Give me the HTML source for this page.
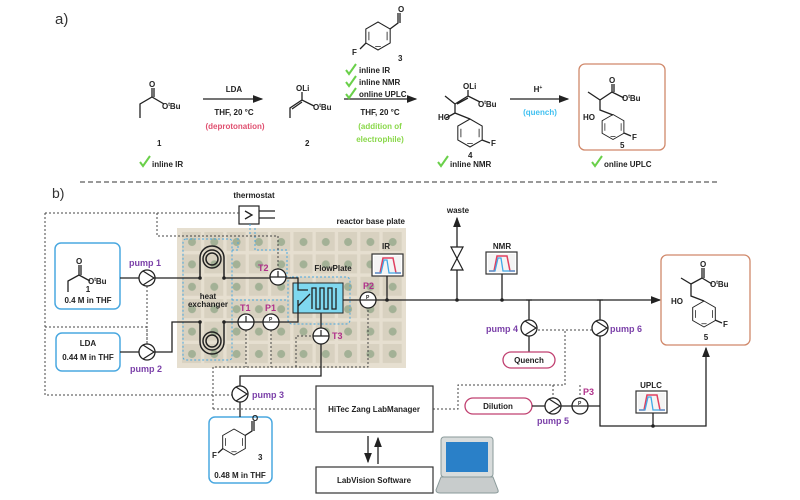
<!DOCTYPE html>
<html><head><meta charset="utf-8"><style>
html,body{margin:0;padding:0;background:#fff;}
svg{display:block;font-family:"Liberation Sans",sans-serif;}
.t{font-size:8px;font-weight:bold;fill:#222;}
.pl{font-size:9px;font-weight:bold;fill:#7a3fa8;}
.mg{font-size:9px;font-weight:bold;fill:#b0308a;}
.ln{stroke:#222;stroke-width:1.3;fill:none;}
.dt{stroke:#444;stroke-width:1;stroke-dasharray:2,2;fill:none;}
.bd{stroke:#4aa8e0;stroke-width:1;stroke-dasharray:2,2;fill:none;}
</style></head><body>
<svg width="800" height="500" viewBox="0 0 800 500">
<defs>
<marker id="ar" markerWidth="8" markerHeight="8" refX="7" refY="4" orient="auto"><path d="M0,1 L8,4 L0,7 z" fill="#222"/></marker>
<pattern id="grid" x="181" y="231" width="22.3" height="22.4" patternUnits="userSpaceOnUse">
<rect x="1" y="1" width="19" height="19" fill="#d8d1c0"/><circle cx="11" cy="11" r="4" fill="#a3b196"/>
</pattern>
<g id="pump"><circle r="8" fill="#fff" stroke="#222" stroke-width="1.3"/><path d="M-4,-7 L7,0 L-4,7" stroke="#222" stroke-width="1.2" fill="none"/></g>
<g id="tsen"><circle r="8" fill="#fff" stroke="#222" stroke-width="1.3"/><path d="M-8,0 H8 M0,0 V-6" stroke="#222" stroke-width="1.2"/></g>
<g id="psen"><circle r="8" fill="#fff" stroke="#222" stroke-width="1.3"/><path d="M-8,0 H8" stroke="#222" stroke-width="1.2"/><text x="-2" y="-1" font-size="5" font-weight="bold" fill="#222">P</text></g>
<g id="spec"><rect x="0" y="0" width="31" height="22" fill="#fff" stroke="#333" stroke-width="1.2"/><rect x="2" y="2" width="27" height="18" fill="#f4f4f4"/><path d="M3,19 L8,19 L11,4 L21,4 L24,19 L29,19" stroke="#e04060" stroke-width="1.5" fill="none"/><path d="M3,19 L9,19 L12,6 L15,6 L17,19 L29,19" stroke="#40a8e8" stroke-width="1.3" fill="none"/></g>
<g id="check"><path d="M0,4 L3,8 L10,-2" stroke="#6ad04a" stroke-width="2" fill="none"/></g>
<g id="hex"><polygon points="0,-10 8.7,-5 8.7,5 0,10 -8.7,5 -8.7,-5" fill="none" stroke="#222" stroke-width="0.75"/><path d="M-6.5,-3 V3 M6.5,-3 V3 M-2,7.5 L2,7.5" stroke="#222" stroke-width="0.6"/></g>
</defs>

<!-- PART A -->
<text x="55" y="24" font-size="15" fill="#333">a)</text>
<g class="ln" stroke-width="1">
<path d="M140,118 V104 L152,97 L164,104"/><path d="M152,97 V88 M154,97 V88"/>
</g>
<text x="149" y="87" class="t">O</text>
<text x="162" y="109" class="t">O<tspan font-size="5" dy="-3">t</tspan><tspan dy="3">Bu</tspan></text>
<text x="157" y="146" class="t">1</text>
<use href="#check" x="140" y="158"/><text x="152" y="167" class="t">inline IR</text>
<line x1="203" y1="99" x2="262" y2="99" class="ln" marker-end="url(#ar)"/>
<text x="234" y="92" class="t" text-anchor="middle">LDA</text>
<text x="234" y="115" class="t" text-anchor="middle">THF, 20 °C</text>
<text x="235" y="129" class="t" text-anchor="middle" style="fill:#e05070">(deprotonation)</text>
<g class="ln" stroke-width="1"><path d="M290,118 V108 L302,100 L314,106 M302,100 V92 M292,109 L302,102"/></g>
<text x="296" y="91" class="t">OLi</text>
<text x="313" y="110" class="t">O<tspan font-size="5" dy="-3">t</tspan><tspan dy="3">Bu</tspan></text>
<text x="305" y="146" class="t">2</text>
<line x1="344" y1="99" x2="416" y2="99" class="ln" marker-end="url(#ar)"/>
<use href="#hex" transform="translate(378,36) scale(1.4)"/>
<g class="ln" stroke-width="1"><path d="M390,29 L398,23 V13 M400,23 V13 M366,43 L360,49"/></g>
<text x="398" y="12" class="t">O</text><text x="352" y="55" class="t">F</text>
<text x="398" y="61" class="t">3</text>
<use href="#check" x="346" y="66"/><text x="359" y="73" class="t">inline IR</text>
<use href="#check" x="346" y="78"/><text x="359" y="85" class="t">inline NMR</text>
<use href="#check" x="346" y="90"/><text x="359" y="97" class="t">online UPLC</text>
<text x="380" y="115" class="t" text-anchor="middle">THF, 20 °C</text>
<text x="380" y="129" class="t" text-anchor="middle" style="fill:#8ad84a">(addition of</text>
<text x="380" y="142" class="t" text-anchor="middle" style="fill:#8ad84a">electrophile)</text>
<g class="ln" stroke-width="1"><path d="M445,96 L455,104 L468,96 L480,102 M468,96 V90 M457,104 L468,98 M455,104 V113 L470,119 M446,118 L455,113"/><path d="M482,140 L490,143"/></g>
<use href="#hex" transform="translate(470,133) scale(1.4)"/>
<text x="463" y="89" class="t">OLi</text>
<text x="478" y="107" class="t">O<tspan font-size="5" dy="-3">t</tspan><tspan dy="3">Bu</tspan></text>
<text x="438" y="120" class="t">HO</text><text x="491" y="146" class="t">F</text>
<text x="468" y="158" class="t">4</text>
<use href="#check" x="438" y="158"/><text x="450" y="167" class="t">inline NMR</text>
<line x1="510" y1="99" x2="568" y2="99" class="ln" marker-end="url(#ar)"/>
<text x="538" y="92" class="t" text-anchor="middle">H<tspan font-size="5" dy="-3">+</tspan></text>
<text x="540" y="115" class="t" text-anchor="middle" style="fill:#40c0f0">(quench)</text>
<rect x="579" y="64" width="86" height="86" rx="6" fill="#fff" stroke="#d0886a" stroke-width="1.3"/>
<g class="ln" stroke-width="1"><path d="M588,92 L600,100 L612,92 L624,98 M612,92 V84 M614,92 V84 M600,100 V110 L613,115 M624,133 L631,136"/></g>
<use href="#hex" transform="translate(613,127) scale(1.25)"/>
<text x="609" y="83" class="t">O</text>
<text x="622" y="101" class="t">O<tspan font-size="5" dy="-3">t</tspan><tspan dy="3">Bu</tspan></text>
<text x="583" y="120" class="t">HO</text><text x="632" y="140" class="t">F</text>
<text x="620" y="148" class="t">5</text>
<use href="#check" x="592" y="158"/><text x="604" y="167" class="t">online UPLC</text>

<line x1="80" y1="182" x2="720" y2="182" stroke="#333" stroke-width="1" stroke-dasharray="5,3"/>

<!-- PART B -->
<text x="52" y="198" font-size="14" fill="#333">b)</text>
<rect x="177" y="228" width="229" height="140" fill="#e6dfd0"/>
<rect x="181" y="231" width="223" height="134" fill="url(#grid)"/>
<text x="405" y="224" class="t" text-anchor="end">reactor base plate</text>
<text x="254" y="198" class="t" text-anchor="middle">thermostat</text>
<rect x="239" y="206" width="20" height="18" fill="#fff" stroke="#222" stroke-width="1.2"/>
<path d="M245,211 L252,215 L245,219 M259,211 H275 M259,218 H275" class="ln" stroke-width="1"/>
<rect x="183" y="239" width="49" height="121" class="bd" rx="3"/>
<path d="M232,300 H287 M232,250 H238 V238 M255,228 V250 H287 V277" class="bd"/>
<rect x="288" y="277" width="62" height="47" rx="4" class="bd"/>
<rect x="293" y="283" width="50" height="30" fill="#7fd8f0" stroke="#222" stroke-width="1"/>
<path d="M312,309 V288 h4 V309 h4 V288 h4 V309 h4 V288 h4 V309 h4 V288" class="ln" stroke-width="1.5"/>
<path d="M298,306 L310,294" class="ln" stroke-width="1"/>
<text x="333" y="271" class="t" text-anchor="middle">FlowPlate</text>
<rect x="55" y="243" width="65" height="66" rx="6" fill="#fff" stroke="#4aa8e0" stroke-width="1.5"/>
<g class="ln" stroke-width="1"><path d="M68,292 V281 L79,275 L90,281 M79,275 V265 M81,275 V265"/></g>
<text x="76" y="264" class="t">O</text>
<text x="88" y="284" class="t">O<tspan font-size="5" dy="-3">t</tspan><tspan dy="3">Bu</tspan></text>
<text x="88" y="292" class="t" text-anchor="middle">1</text>
<text x="88" y="303" class="t" text-anchor="middle">0.4 M in THF</text>
<rect x="56" y="333" width="64" height="38" rx="6" fill="#fff" stroke="#4aa8e0" stroke-width="1.5"/>
<text x="88" y="346" class="t" text-anchor="middle">LDA</text>
<text x="88" y="360" class="t" text-anchor="middle">0.44 M in THF</text>
<rect x="209" y="417" width="63" height="66" rx="6" fill="#fff" stroke="#4aa8e0" stroke-width="1.5"/>
<use href="#hex" transform="translate(234,442) scale(1.3)"/>
<g class="ln" stroke-width="1"><path d="M245,435.5 L252,431 V421 M254,431 V421 M223,448.5 L218,453"/></g>
<text x="252" y="421" class="t">O</text><text x="212" y="458" class="t">F</text><text x="258" y="460" class="t">3</text>
<text x="240" y="478" class="t" text-anchor="middle">0.48 M in THF</text>
<path d="M45,213 H239 M45,213 V395 H232 M45,327 H147 V344 M157,213 V236 H278 V269" class="dt"/>
<path d="M250,224 V236" class="bd"/>
<path d="M213,409 H316 M213,409 V367 H368 V308 M246,330 V367 M271,330 V367 M296,367 V336 H313" class="dt"/>
<path d="M433,409 H458 V385 H565 V330 M530,330 H592 M553,385 V398 M580,385 V398" class="dt"/>
<path d="M147,286 V344" class="dt"/>
<path d="M120,278 H200 M224,278 H298 V290 H308 M120,352 H172 V322 H200 M224,322 H298 V300" class="ln"/>
<path d="M343,300 H660" class="ln" marker-end="url(#ar)"/>
<path d="M321,313 V376 H240 V417" class="ln"/>
<g fill="none" stroke="#222" stroke-width="1.5">
<path d="M200,278 V258 A12,12 0 1 1 224,258 V278"/><ellipse cx="212" cy="259" rx="9" ry="9"/><ellipse cx="212" cy="259" rx="6" ry="6"/>
<path d="M200,322 V342 A12,12 0 1 0 224,342 V322"/><ellipse cx="212" cy="341" rx="9" ry="9"/><ellipse cx="212" cy="341" rx="6" ry="6"/>
</g>
<g fill="#222"><circle cx="200" cy="278" r="1.8"/><circle cx="224" cy="278" r="1.8"/><circle cx="200" cy="322" r="1.8"/><circle cx="224" cy="322" r="1.8"/><circle cx="387" cy="300" r="1.8"/><circle cx="457" cy="300" r="1.8"/><circle cx="502" cy="300" r="1.8"/><circle cx="653" cy="426" r="1.8"/></g>
<text x="208" y="299" class="t" text-anchor="middle">heat</text>
<text x="208" y="307" class="t" text-anchor="middle">exchanger</text>
<use href="#pump" x="147" y="278"/><text x="129" y="266" class="pl">pump 1</text>
<use href="#pump" x="147" y="352"/><text x="130" y="372" class="pl">pump 2</text>
<use href="#pump" x="240" y="394"/><text x="252" y="398" class="pl">pump 3</text>
<use href="#tsen" x="278" y="277"/><text x="258" y="271" class="mg">T2</text>
<use href="#tsen" x="246" y="322"/><text x="240" y="311" class="mg">T1</text>
<use href="#psen" x="271" y="322"/><text x="265" y="311" class="mg">P1</text>
<use href="#psen" x="368" y="300"/><text x="363" y="289" class="mg">P2</text>
<use href="#tsen" x="321" y="336"/><text x="332" y="339" class="mg">T3</text>
<text x="386" y="249" class="t" text-anchor="middle">IR</text>
<use href="#spec" x="372" y="254"/>
<path d="M387,276 V300" class="ln"/>
<text x="458" y="213" class="t" text-anchor="middle">waste</text>
<path d="M457,300 V218" class="ln" marker-end="url(#ar)"/>
<path d="M451,247 H463 L451,270 H463 Z" fill="#fff" stroke="#222" stroke-width="1.2"/>
<text x="502" y="249" class="t" text-anchor="middle">NMR</text>
<use href="#spec" x="486" y="252"/>
<path d="M502,274 V300" class="ln"/>
<path d="M526,300 H532 M529,300 V352" class="ln"/>
<use href="#pump" x="529" y="328"/>
<text x="486" y="332" class="pl">pump 4</text>
<rect x="503" y="352" width="52" height="16" rx="8" fill="#fff" stroke="#c04070" stroke-width="1.3"/>
<text x="529" y="363" class="t" text-anchor="middle">Quench</text>
<path d="M597,300 H603 M600,300 V426 H706 V348" class="ln" marker-end="url(#ar)"/>
<use href="#pump" x="600" y="328"/>
<text x="610" y="332" class="pl">pump 6</text>
<text x="651" y="388" class="t" text-anchor="middle">UPLC</text>
<use href="#spec" x="636" y="391"/>
<path d="M653,413 V426" class="ln"/>
<rect x="465" y="398" width="67" height="16" rx="8" fill="#fff" stroke="#c04070" stroke-width="1.3"/>
<text x="498" y="409" class="t" text-anchor="middle">Dilution</text>
<path d="M532,406 H600" class="ln"/>
<use href="#pump" x="553" y="406"/><text x="537" y="424" class="pl">pump 5</text>
<use href="#psen" x="580" y="406"/><text x="583" y="395" class="mg">P3</text>
<rect x="661" y="255" width="89" height="90" rx="6" fill="#fff" stroke="#d0886a" stroke-width="1.3"/>
<g class="ln" stroke-width="1"><path d="M681,278 L691,284 L702,278 L712,284 M702,278 V268 M704,278 V268 M691,284 V296 L704,301 M715,320 L722,323"/></g>
<use href="#hex" transform="translate(704,314) scale(1.3)"/>
<text x="700" y="267" class="t">O</text>
<text x="710" y="287" class="t">O<tspan font-size="5" dy="-3">t</tspan><tspan dy="3">Bu</tspan></text>
<text x="671" y="304" class="t">HO</text><text x="723" y="327" class="t">F</text>
<text x="706" y="340" class="t" text-anchor="middle">5</text>
<rect x="316" y="386" width="117" height="46" fill="#fff" stroke="#333" stroke-width="1.2"/>
<text x="374" y="412" class="t" text-anchor="middle">HiTec Zang LabManager</text>
<rect x="316" y="467" width="117" height="26" fill="#fff" stroke="#333" stroke-width="1.2"/>
<text x="374" y="483" class="t" text-anchor="middle">LabVision Software</text>
<path d="M368,436 V462" class="ln" stroke-width="1" marker-end="url(#ar)"/>
<path d="M378,464 V438" class="ln" stroke-width="1" marker-end="url(#ar)"/>
<rect x="441" y="437" width="52" height="40" rx="3" fill="#d8dcdc" stroke="#8a9a9a" stroke-width="1"/>
<rect x="446" y="442" width="42" height="30" fill="#2a80c8"/>
<path d="M441,477 L436,490 Q436,493 440,493 H495 Q499,493 498,490 L493,477 Z" fill="#c8cccc" stroke="#8a9a9a" stroke-width="1"/>
</svg>
</body></html>
